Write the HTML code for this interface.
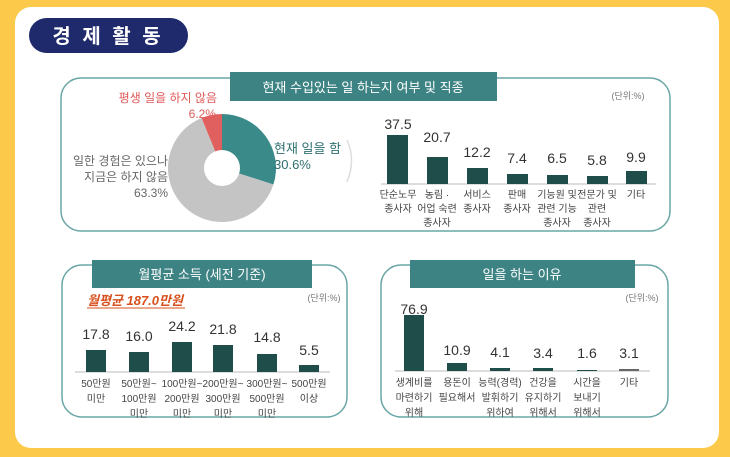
<!DOCTYPE html>
<html><head><meta charset="utf-8"><style>
html,body{margin:0;padding:0;background:#fcc94a;}
svg{display:block}
text{font-family:"Liberation Sans","Noto Sans CJK KR",sans-serif;}
</style></head><body>
<svg width="730" height="457" viewBox="0 0 730 457" xmlns="http://www.w3.org/2000/svg">
<rect x="0" y="0" width="730" height="457" fill="#fcc94a"/>
<rect x="15" y="7" width="704" height="441" rx="16" fill="#ffffff"/>
<rect x="29" y="18" width="159" height="35" rx="17.5" fill="#1e2a6b"/>
<text x="108" y="43" font-size="20" font-weight="bold" fill="#fff" text-anchor="middle" letter-spacing="3">경 제 활 동</text>

<!-- top box -->
<rect x="61" y="78" width="609" height="153" rx="20" fill="none" stroke="#6aa6a6" stroke-width="1.5"/>
<rect x="230" y="72" width="267" height="29" fill="#3d8383"/>
<text x="363" y="92" font-size="13" fill="#fff" text-anchor="middle">현재 수입있는 일 하는지 여부 및 직종</text>
<text x="628" y="99" font-size="9" fill="#777" text-anchor="middle">(단위:%)</text>

<!-- pie -->
<g transform="translate(222,168)">
<path d="M0,-54 A54,54 0 0 1 51.4,16.5 L0,0Z" fill="#3a8a8a"/>
<path d="M51.4,16.5 A54,54 0 1 1 -20.4,-50 L0,0Z" fill="#c4c4c4"/>
<path d="M-20.4,-50 A54,54 0 0 1 0,-54 L0,0Z" fill="#e06060"/>
<circle r="18" fill="#fff"/>
</g>
<text x="217" y="102" font-size="12" fill="#e05a5a" text-anchor="end">평생 일을 하지 않음</text>
<text x="216" y="118" font-size="12" fill="#e05a5a" text-anchor="end">6.2%</text>
<text x="274" y="153" font-size="13" fill="#2d6f6f">현재 일을 함</text>
<text x="274" y="169" font-size="13" fill="#2d6f6f">30.6%</text>
<text x="168" y="165" font-size="12" fill="#666" text-anchor="end">일한 경험은 있으나</text>
<text x="168" y="181" font-size="12" fill="#666" text-anchor="end">지금은 하지 않음</text>
<text x="168" y="197" font-size="12" fill="#666" text-anchor="end">63.3%</text>
<path d="M347,140 Q356,160 347,182" fill="none" stroke="#ddd" stroke-width="1.5"/>

<!-- top bars -->
<line x1="381" y1="184" x2="656" y2="184" stroke="#bbb"/>
<g fill="#1e4d4a">
<rect x="387" y="135" width="21" height="49"/>
<rect x="427" y="157" width="21" height="27"/>
<rect x="467" y="168" width="21" height="16"/>
<rect x="507" y="174" width="21" height="10"/>
<rect x="547" y="175" width="21" height="9"/>
<rect x="587" y="176" width="21" height="8"/>
<rect x="626" y="171" width="21" height="13"/>
</g>
<g font-size="14" fill="#333" text-anchor="middle">
<text x="398" y="129">37.5</text><text x="437" y="142">20.7</text><text x="477" y="157">12.2</text>
<text x="517" y="163">7.4</text><text x="557" y="163">6.5</text><text x="597" y="165">5.8</text><text x="636" y="162">9.9</text>
</g>
<g font-size="10" fill="#444" text-anchor="middle">
<text x="398" y="198">단순노무</text><text x="398" y="212">종사자</text>
<text x="437" y="198">농림 ·</text><text x="437" y="212">어업 숙련</text><text x="437" y="226">종사자</text>
<text x="477" y="198">서비스</text><text x="477" y="212">종사자</text>
<text x="517" y="198">판매</text><text x="517" y="212">종사자</text>
<text x="557" y="198">기능원 및</text><text x="557" y="212">관련 기능</text><text x="557" y="226">종사자</text>
<text x="597" y="198">전문가 및</text><text x="597" y="212">관련</text><text x="597" y="226">종사자</text>
<text x="636" y="198">기타</text>
</g>

<!-- bottom-left -->
<rect x="62" y="265" width="285" height="152" rx="20" fill="none" stroke="#6aa6a6" stroke-width="1.5"/>
<rect x="92" y="260" width="220" height="28" fill="#3d8383"/>
<text x="202" y="279" font-size="13" fill="#fff" text-anchor="middle">월평균 소득 (세전 기준)</text>
<text x="87" y="305" font-size="13" font-style="italic" font-weight="bold" fill="#d8501e">월평균 187.0만원</text>
<line x1="87" y1="308" x2="185" y2="308" stroke="#d8501e"/>
<text x="324" y="301" font-size="9" fill="#777" text-anchor="middle">(단위:%)</text>
<line x1="75" y1="372" x2="330" y2="372" stroke="#bbb"/>
<g fill="#1e4d4a">
<rect x="86" y="350" width="20" height="22"/>
<rect x="129" y="352" width="20" height="20"/>
<rect x="172" y="342" width="20" height="30"/>
<rect x="213" y="345" width="20" height="27"/>
<rect x="257" y="354" width="20" height="18"/>
<rect x="299" y="365" width="20" height="7"/>
</g>
<g font-size="14" fill="#333" text-anchor="middle">
<text x="96" y="339">17.8</text><text x="139" y="341">16.0</text><text x="182" y="331">24.2</text>
<text x="223" y="334">21.8</text><text x="267" y="342">14.8</text><text x="309" y="355">5.5</text>
</g>
<g font-size="10" fill="#444" text-anchor="middle">
<text x="96" y="387">50만원</text><text x="96" y="402">미만</text>
<text x="139" y="387">50만원~</text><text x="139" y="402">100만원</text><text x="139" y="417">미만</text>
<text x="182" y="387">100만원~</text><text x="182" y="402">200만원</text><text x="182" y="417">미만</text>
<text x="223" y="387">200만원~</text><text x="223" y="402">300만원</text><text x="223" y="417">미만</text>
<text x="267" y="387">300만원~</text><text x="267" y="402">500만원</text><text x="267" y="417">미만</text>
<text x="309" y="387">500만원</text><text x="309" y="402">이상</text>
</g>

<!-- bottom-right -->
<rect x="381" y="265" width="287" height="152" rx="20" fill="none" stroke="#6aa6a6" stroke-width="1.5"/>
<rect x="410" y="260" width="225" height="28" fill="#3d8383"/>
<text x="522" y="279" font-size="13" fill="#fff" text-anchor="middle">일을 하는 이유</text>
<text x="642" y="301" font-size="9" fill="#777" text-anchor="middle">(단위:%)</text>
<line x1="395" y1="371" x2="650" y2="371" stroke="#bbb"/>
<g fill="#1e4d4a">
<rect x="404" y="315" width="20" height="56"/>
<rect x="447" y="363" width="20" height="8"/>
<rect x="490" y="368" width="20" height="3"/>
<rect x="533" y="368" width="20" height="3"/>
<rect x="577" y="370" width="20" height="1"/>
<rect x="619" y="369" width="20" height="2" fill="#666"/>
</g>
<g font-size="14" fill="#333" text-anchor="middle">
<text x="414" y="314">76.9</text><text x="457" y="355">10.9</text><text x="500" y="357">4.1</text>
<text x="543" y="358">3.4</text><text x="587" y="358">1.6</text><text x="629" y="358">3.1</text>
</g>
<g font-size="10" fill="#444" text-anchor="middle">
<text x="414" y="386">생계비를</text><text x="414" y="401">마련하기</text><text x="414" y="416">위해</text>
<text x="457" y="386">용돈이</text><text x="457" y="401">필요해서</text>
<text x="500" y="386">능력(경력)</text><text x="500" y="401">발휘하기</text><text x="500" y="416">위하여</text>
<text x="543" y="386">건강을</text><text x="543" y="401">유지하기</text><text x="543" y="416">위해서</text>
<text x="587" y="386">시간을</text><text x="587" y="401">보내기</text><text x="587" y="416">위해서</text>
<text x="629" y="386">기타</text>
</g>
</svg>
</body></html>
